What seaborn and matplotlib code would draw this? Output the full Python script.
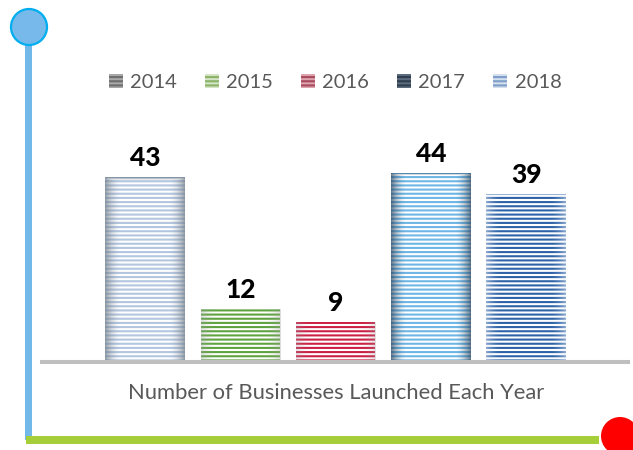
import numpy as np
import pandas as pd
import matplotlib
matplotlib.use('Agg')
import matplotlib.pyplot as plt
import seaborn as sns
from matplotlib.patches import Patch, Rectangle, Circle

# Data
years = ['2014', '2015', '2016', '2017', '2018']
launched = [43, 12, 9, 44, 39]
title_text = 'Number of Businesses Launched Each Year'

# Styling
stripe_colors = ['#B3C6E0', '#5FA33E', '#CC1F45', '#6DB6E6', '#2C62A8']
edge_shades = ['#75828F', '#9AA39A', '#A59AA0', '#2B4660', '#E8EEF6']
edge_strength = [0.75, 0.35, 0.3, 0.7, 0.5]
legend_faces = ['#A8A8A8', '#D4E4C4', '#DDA3AF', '#5C6C7E', '#D3DFEE']
legend_stripes = ['#6E6E6E', '#8AB368', '#A84A5E', '#2E3E4E', '#7E9EC8']
TEXT_GRAY = '#595959'

df = pd.DataFrame({'Year': years, 'Launched': launched})

sns.set_style('white')
plt.rcParams['font.family'] = ['Lato', 'DejaVu Sans']
plt.rcParams['hatch.linewidth'] = 1.5

W, H = 633, 450
fig = plt.figure(figsize=(W / 100, H / 100), dpi=100)

# decorative frame (pixel coordinates)
deco = fig.add_axes([0, 0, 1, 1], zorder=0)
deco.set_xlim(0, W)
deco.set_ylim(H, 0)
deco.axis('off')
deco.add_patch(Rectangle((25, 44), 7, 396, color='#72B9EA', lw=0))
deco.add_patch(Rectangle((26, 436), 573, 7.5, color='#A6CE39', lw=0))
deco.add_patch(Circle((29, 27), 18, fc='#78B9EB', ec='#00AEEF', lw=1.6))
deco.add_patch(Circle((620, 436), 19, color='#FF0000', lw=0))

# main chart area
left_px, right_px, base_px, top_px = 42, 628, 360, 60
ax = fig.add_axes([left_px / W, 1 - base_px / H, (right_px - left_px) / W,
                   (base_px - top_px) / H], zorder=1)
ax.set_facecolor('none')

sns.barplot(data=df, x='Year', y='Launched', hue='Year', palette=stripe_colors,
            width=0.834, legend=False, ax=ax)

for i, cont in enumerate(ax.containers):
    for bar in cont:
        bar.set_facecolor('white')
        bar.set_edgecolor(stripe_colors[i])
        bar.set_hatch('----')
        bar.set_linewidth(0)
        # shaded edges like the original gradient fill
        x0, w, h = bar.get_x(), bar.get_width(), bar.get_height()
        t = np.linspace(-1, 1, 80)
        side = np.clip((np.abs(t) - 0.6) / 0.4, 0, 1) ** 1.8
        yy = np.linspace(1, 0, 200)
        top = np.clip((yy - 0.985) / 0.015, 0, 1)
        alpha = np.maximum(side[None, :], top[:, None]) * edge_strength[i]
        rgba = np.zeros((200, 80, 4))
        rgba[..., :3] = matplotlib.colors.to_rgb(edge_shades[i])
        rgba[..., 3] = alpha
        im = ax.imshow(rgba, extent=(x0, x0 + w, 0, h), aspect='auto',
                       interpolation='bilinear', zorder=2)
        im.set_clip_path(bar)
    ax.bar_label(cont, padding=5, fontsize=19, fontweight='black', color='black')

ax.set_xlim(-1.081, 5.068)
ax.set_ylim(0, 70.5)
ax.set_xticks([])
ax.set_yticks([])
ax.set_xlabel('')
ax.set_ylabel('')
for s in ['left', 'right', 'top']:
    ax.spines[s].set_visible(False)
ax.spines['bottom'].set_color('#BFBFBF')
ax.spines['bottom'].set_linewidth(2.9)
ax.spines['bottom'].set_position(('outward', 1.44))

handles = [Patch(facecolor=legend_faces[i], edgecolor=legend_stripes[i],
                 hatch='----', linewidth=0, label=y) for i, y in enumerate(years)]
fig.legend(handles=handles, loc='center', bbox_to_anchor=(335 / W, 1 - 82.5 / H),
           ncol=5, frameon=False, fontsize=14.5, labelcolor=TEXT_GRAY,
           handlelength=0.7, handleheight=0.7, handletextpad=0.35,
           columnspacing=1.4)

fig.text(336 / W, 1 - 393 / H, title_text, ha='center', va='center',
         color=TEXT_GRAY, fontsize=15.8)

fig.savefig('out.png', dpi=100)
